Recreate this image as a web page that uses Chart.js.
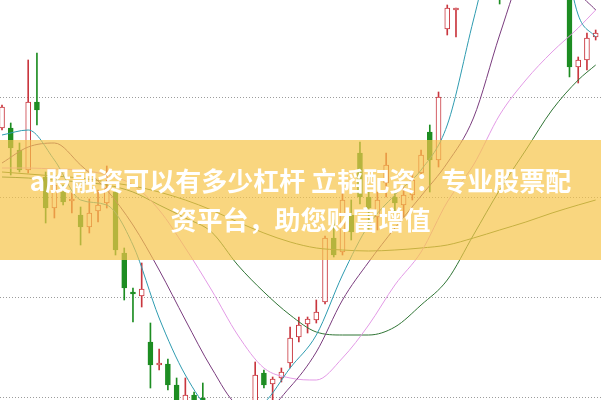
<!DOCTYPE html>
<html>
<head>
<meta charset="utf-8">
<script src="https://cdn.jsdelivr.net/npm/chart.js@4.4.0/dist/chart.umd.min.js"></script>
<style>
  html, body { margin: 0; padding: 0; background: #fff; }
  #wrap { position: relative; width: 601px; height: 400px; overflow: hidden; }
  #banner { position: absolute; left: 0; top: 140px; width: 601px; height: 120px; background: rgba(247, 196, 72, 0.7); }
  .t { position: absolute; left: 0; width: 601px; text-align: center; color: #fff; white-space: nowrap;
       font-family: "Noto Sans CJK SC"; font-weight: bold; font-size: 26px; line-height: 30px; }
</style>
</head>
<body>
<div id="wrap">
  <canvas id="kline" width="601" height="400"></canvas>
  <div id="banner">
    <div class="t" style="top:25px">a股融资可以有多少杠杆 立韬配资：专业股票配</div>
    <div class="t" style="top:64px">资平台，助您财富增值</div>
  </div>
</div>
<script>
// daily candles
const opens  = [13.69,13.69,13.47,13.27,13.95,13.20,12.89,13.05,12.96,12.82,12.70,12.86,12.94,13.05,12.44,12.05,12.01,11.55,11.32,11.33,
                11.12,10.95,11.02,10.99,10.82,10.67,10.77,10.62,10.79,10.87,11.24,11.13,11.19,11.34,11.60,11.73,11.77,11.95,12.59,12.45,
                12.82,13.44,13.00,12.80,13.14,13.00,12.92,13.02,13.24,13.65,13.37,14.68,14.87,15.17,15.80,16.40,16.10,16.50,15.70,16.20,
                16.90,16.50,17.00,16.60,17.10,16.90,14.30,14.37,14.60];
const highs  = [13.92,13.74,13.54,14.37,14.44,13.25,13.22,13.12,13.04,12.90,12.98,13.07,13.31,13.07,12.49,12.09,12.34,11.74,11.48,11.38,
                11.19,11.19,11.05,11.14,10.87,10.85,10.81,10.89,10.95,11.35,11.27,11.20,11.29,11.70,11.80,11.80,11.97,12.61,12.77,13.10,
                12.97,13.55,13.07,13.05,13.44,13.07,13.10,13.25,13.47,13.72,14.05,14.92,14.89,15.87,16.45,16.60,16.75,16.70,16.40,16.95,
                17.10,17.20,17.15,17.30,17.25,17.00,14.40,14.64,14.67];
const lows   = [13.67,13.22,13.25,13.24,13.72,12.74,12.79,12.92,12.84,12.52,12.64,12.75,12.89,12.42,11.97,11.75,11.90,11.09,11.27,11.07,
                10.85,10.92,10.82,10.72,10.57,10.61,10.52,10.57,10.72,10.82,11.09,10.97,11.15,11.29,11.55,11.64,11.74,11.93,12.40,12.42,
                12.57,12.93,12.67,12.67,13.00,12.84,12.80,12.97,13.20,13.05,13.30,14.62,14.60,15.12,15.70,15.90,16.00,14.93,15.50,16.10,
                16.30,16.40,16.40,16.50,16.70,14.20,14.14,14.27,14.57];
const closes = [13.90,13.49,13.27,13.95,13.87,12.89,13.12,12.95,12.98,12.70,12.84,12.92,13.09,12.47,12.09,12.03,12.08,11.32,11.34,11.12,
                10.92,11.02,10.87,10.77,10.67,10.77,10.62,10.82,10.92,11.22,11.12,11.18,11.25,11.59,11.72,11.78,11.85,12.59,12.42,12.97,
                12.65,13.00,12.89,12.97,13.32,12.94,13.02,13.17,13.42,13.37,14.00,14.89,14.89,15.77,16.30,16.10,16.60,15.60,16.20,16.80,
                16.50,17.00,16.60,17.10,16.90,14.30,14.37,14.59,14.64];

// moving averages, sampled every third day
const maDays = [0,3,6,9,12,15,18,21,24,27,30,33,36,39,42,45,48,51,54,57,60,63,66,68];
const ma5  = [13.62,13.67,13.37,12.97,12.92,12.52,11.79,11.22,10.87,10.82,10.94,11.29,11.62,12.22,12.72,13.02,13.27,13.72,14.77,15.77,16.17,15.97,14.82,14.60];
const ma10 = [13.34,13.50,13.54,13.32,13.07,12.72,12.27,11.77,11.29,10.92,10.87,11.10,11.45,11.97,12.35,12.69,13.01,13.34,13.79,14.62,15.37,15.77,15.07,14.87];
const ma20 = [13.29,13.29,13.28,13.27,13.22,13.12,12.87,12.49,12.07,11.62,11.29,11.19,11.17,11.39,11.72,12.12,12.45,12.95,13.32,13.82,14.17,14.45,14.69,14.87];
const ma30 = [13.20,13.19,13.17,13.15,13.12,13.05,12.92,12.79,12.65,12.32,12.05,11.82,11.65,11.62,11.62,11.70,11.92,12.17,12.62,13.07,13.47,13.87,14.17,14.32];
const ma60 = [13.25,13.23,13.21,13.19,13.15,13.11,13.05,12.97,12.87,12.75,12.64,12.55,12.49,12.47,12.46,12.47,12.49,12.52,12.59,12.67,12.75,12.84,12.92,12.97];

const gridLevels = [11, 12, 13, 14];

const RED = '#c9363e', GREEN = '#1d8d22';
const days = opens.map((_, i) => i);
const isUp = days.map(i => closes[i] >= opens[i]);

const wicks = days.map(i => ({ x: i, y: [lows[i], highs[i]] }));
const bodies = days.map(i => {
  let a = opens[i], b = closes[i];
  if (Math.abs(a - b) < 0.01) b = a + 0.01; // doji -> thin line
  return { x: i, y: [a, b] };
});

function maLine(vals, color) {
  return {
    type: 'line',
    data: maDays.map((d, k) => ({ x: d, y: vals[k] })),
    borderColor: color,
    borderWidth: 1,
    pointRadius: 0,
    cubicInterpolationMode: 'monotone',
    order: 1
  };
}

new Chart(document.getElementById('kline'), {
  type: 'bar',
  data: {
    datasets: [
      {
        data: wicks,
        backgroundColor: days.map(i => isUp[i] ? RED : GREEN),
        borderWidth: 0,
        barThickness: 1,
        grouped: false,
        order: 3
      },
      {
        data: bodies,
        backgroundColor: days.map(i => isUp[i] ? '#ffffff' : GREEN),
        borderColor: days.map(i => isUp[i] ? RED : GREEN),
        borderWidth: 1,
        borderSkipped: false,
        barThickness: 5,
        grouped: false,
        order: 2
      },
      maLine(ma5, '#2e9bb0'),
      maLine(ma10, '#7a3c7e'),
      maLine(ma20, '#e39ae6'),
      maLine(ma30, '#2f7434'),
      maLine(ma60, '#55802e')
    ]
  },
  options: {
    responsive: false,
    animation: false,
    layout: { padding: 0 },
    plugins: { legend: { display: false }, tooltip: { enabled: false } },
    scales: {
      x: { type: 'linear', display: false, offset: false, min: -0.23, max: 68.61 },
      y: {
        min: 10.97, max: 14.97,
        afterBuildTicks: s => { s.ticks = gridLevels.map(v => ({ value: v })); },
        afterFit: s => { s.width = 0; },
        ticks: { display: false },
        grid: { color: '#9c9c9c', drawTicks: false, lineWidth: 1 },
        border: { display: false, dash: [1, 2] }
      }
    }
  }
});
</script>
</body>
</html>
